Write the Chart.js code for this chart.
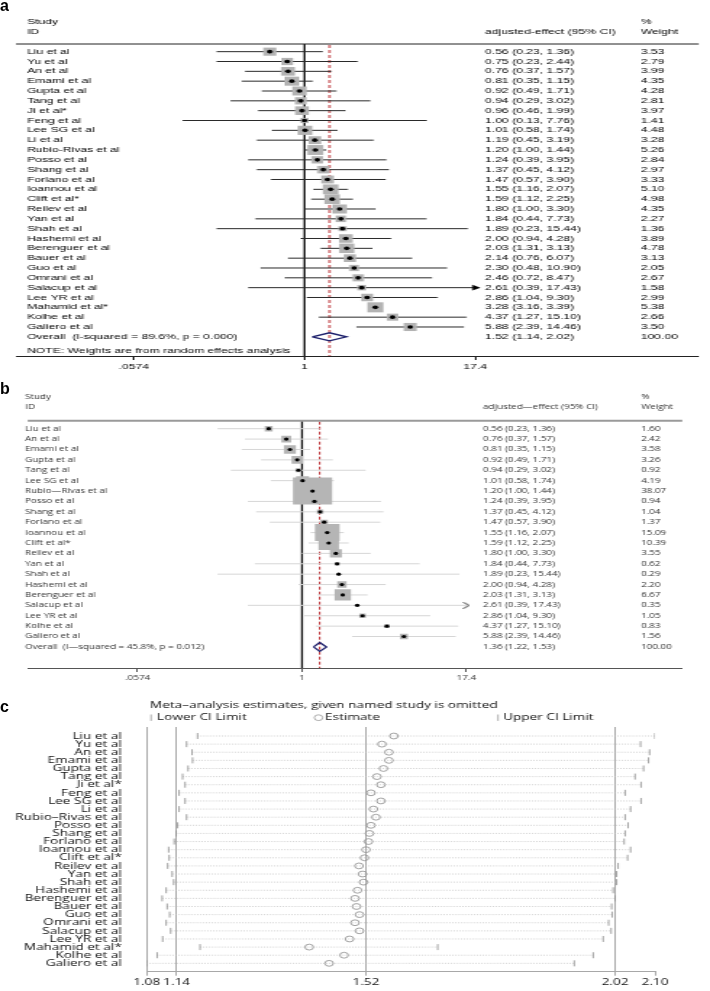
<!DOCTYPE html>
<html>
<head>
<meta charset="utf-8">
<title>Forest plots</title>
<script src="https://cdn.jsdelivr.net/npm/chart.js@4.4.0/dist/chart.umd.min.js"></script>
<style>
  body { margin: 0; background: #fff; width: 710px; height: 991px; position: relative; overflow: hidden; }
  .panel { position: absolute; left: 0; transform-origin: 0 0; }
  .panel canvas { display: block; }
  .tag { position: absolute; left: 0; font-family: "Liberation Sans", Arial, sans-serif; font-weight: bold; font-size: 16px; line-height: 16px; }
</style>
</head>
<body>
<div class="panel" id="wrapA" style="top:0"><canvas id="chartA" width="444" height="380"></canvas></div>
<div class="panel" id="wrapB" style="top:380px"><canvas id="chartB" width="490" height="310"></canvas></div>
<div class="panel" id="wrapC" style="top:690px"><canvas id="chartC" width="490" height="301"></canvas></div>
<div class="tag" style="top:-2px">a</div>
<div class="tag" style="top:381px">b</div>
<div class="tag" style="top:699px">c</div>
<script>
// ---- panel a: all studies ----
const studiesA = ['Liu et al', 'Yu et al', 'An et al', 'Emami et al', 'Gupta et al', 'Tang et al', 'Ji et al*',
    'Feng et al', 'Lee SG et al', 'Li et al', 'Rubio-Rivas et al', 'Posso et al', 'Shang et al', 'Forlano et al',
    'Ioannou et al', 'Clift et al*', 'Reilev et al', 'Yan et al', 'Shah et al', 'Hashemi et al', 'Berenguer et al',
    'Bauer et al', 'Guo et al', 'Omrani et al', 'Salacup et al', 'Lee YR et al', 'Mahamid et al*', 'Kolhe et al',
    'Galiero et al'];
const estA = [0.56, 0.75, 0.76, 0.81, 0.92, 0.94, 0.96, 1.00, 1.01, 1.19, 1.20, 1.24, 1.37, 1.47, 1.55, 1.59,
    1.80, 1.84, 1.89, 2.00, 2.03, 2.14, 2.30, 2.46, 2.61, 2.86, 3.28, 4.37, 5.88];
const lowA = [0.23, 0.23, 0.37, 0.35, 0.49, 0.29, 0.46, 0.13, 0.58, 0.45, 1.00, 0.39, 0.45, 0.57, 1.16, 1.12,
    1.00, 0.44, 0.23, 0.94, 1.31, 0.76, 0.48, 0.72, 0.39, 1.04, 3.16, 1.27, 2.39];
const highA = [1.36, 2.44, 1.57, 1.15, 1.71, 3.02, 1.99, 7.76, 1.74, 3.19, 1.44, 3.95, 4.12, 3.90, 2.07, 2.25,
    3.30, 7.73, 15.44, 4.28, 3.13, 6.07, 10.90, 8.47, 17.43, 9.30, 3.39, 15.10, 14.46];
const weightA = [3.53, 2.79, 3.99, 4.35, 4.28, 2.81, 3.97, 1.41, 4.48, 3.28, 5.26, 2.84, 2.97, 3.33, 5.10, 4.98,
    4.35, 2.27, 1.36, 3.89, 4.78, 3.13, 2.05, 2.67, 1.58, 2.99, 5.38, 2.66, 3.50];
const overallA = [1.52, 1.14, 2.02];
const hetA = ['89.6%', '0.000'];

// ---- panel b: adjusted subset ----
const studiesB = ['Liu et al', 'An et al', 'Emami et al', 'Gupta et al', 'Tang et al', 'Lee SG et al',
    'Rubio\u2014Rivas et al', 'Posso et al', 'Shang et al', 'Forlano et al', 'Ioannou et al', 'Clift et al*',
    'Reilev et al', 'Yan et al', 'Shah et al', 'Hashemi et al', 'Berenguer et al', 'Salacup et al', 'Lee YR et al',
    'Kolhe et al', 'Galiero et al'];
const estB = [0.56, 0.76, 0.81, 0.92, 0.94, 1.01, 1.20, 1.24, 1.37, 1.47, 1.55, 1.59, 1.80, 1.84, 1.89, 2.00,
    2.03, 2.61, 2.86, 4.37, 5.88];
const lowB = [0.23, 0.37, 0.35, 0.49, 0.29, 0.58, 1.00, 0.39, 0.45, 0.57, 1.16, 1.12, 1.00, 0.44, 0.23, 0.94,
    1.31, 0.39, 1.04, 1.27, 2.39];
const highB = [1.36, 1.57, 1.15, 1.71, 3.02, 1.74, 1.44, 3.95, 4.12, 3.90, 2.07, 2.25, 3.30, 7.73, 15.44, 4.28,
    3.13, 17.43, 9.30, 15.10, 14.46];
const weightB = [1.60, 2.42, 3.58, 3.26, 0.92, 4.19, 38.07, 0.94, 1.04, 1.37, 15.09, 10.39, 3.55, 0.62, 0.29,
    2.20, 6.67, 0.35, 1.05, 0.83, 1.56];
const overallB = [1.36, 1.22, 1.53];
const hetB = ['45.8%', '0.012'];

// shared x ticks of the forest plots
const forestTicks = [0.0574, 1, 17.4];
const forestTickLabels = ['.0574', '1', '17.4'];

// ---- panel c: leave-one-out ----
const studiesC = ['Liu et al', 'Yu et al', 'An et al', 'Emami et al', 'Gupta et al', 'Tang et al', 'Ji et al*',
    'Feng et al', 'Lee SG et al', 'Li et al', 'Rubio\u2013Rivas et al', 'Posso et al', 'Shang et al', 'Forlano et al',
    'Ioannou et al', 'Clift et al*', 'Reilev et al', 'Yan et al', 'Shah et al', 'Hashemi et al', 'Berenguer et al',
    'Bauer et al', 'Guo et al', 'Omrani et al', 'Salacup et al', 'Lee YR et al', 'Mahamid et al*', 'Kolhe et al',
    'Galiero et al'];
const lowC = [1.182, 1.160, 1.171, 1.172, 1.163, 1.152, 1.157, 1.145, 1.157, 1.145, 1.160, 1.142, 1.139, 1.135,
    1.124, 1.125, 1.122, 1.131, 1.134, 1.119, 1.111, 1.121, 1.126, 1.119, 1.128, 1.112, 1.187, 1.101, 1.080];
const estC = [1.576, 1.552, 1.566, 1.566, 1.555, 1.542, 1.550, 1.530, 1.550, 1.535, 1.540, 1.530, 1.527, 1.525,
    1.520, 1.517, 1.506, 1.513, 1.515, 1.503, 1.498, 1.501, 1.507, 1.498, 1.507, 1.487, 1.406, 1.476, 1.446];
const upC = [2.100, 2.071, 2.089, 2.087, 2.077, 2.060, 2.072, 2.040, 2.072, 2.051, 2.040, 2.046, 2.040, 2.038,
    2.051, 2.045, 2.026, 2.023, 2.023, 2.016, 2.020, 2.013, 2.014, 2.007, 2.012, 1.996, 1.664, 1.976, 1.938];
const ticksC = [1.08, 1.14, 1.52, 2.02, 2.10];
const refLinesC = [1.14, 1.52, 2.02];

const ARIAL = '"Liberation Sans", Arial, sans-serif';
const SANS = '"Open Sans", "Noto Sans", sans-serif';

// the published figure is stretched sideways, so each canvas is too
function stretch(wrapId, canvasId) {
    const w = document.getElementById(canvasId).width;
    const s = 710 / w;
    document.getElementById(wrapId).style.transform = `scaleX(${s})`;
    return s;
}

function chevron(color) {
    const c = document.createElement('canvas');
    c.width = 5;
    c.height = 7;
    const g = c.getContext('2d');
    g.strokeStyle = color;
    g.lineWidth = 1;
    g.beginPath();
    g.moveTo(0.5, 0.5);
    g.lineTo(4.5, 3.5);
    g.lineTo(0.5, 6.5);
    g.stroke();
    return c;
}

function fmt(v) {
    return v.toFixed(2);
}

function forestChart(canvasId, d, L) {
    const S = L.scale;
    const n = d.studies.length;
    const xLimit = forestTicks[forestTicks.length - 1];

    const ciPts = [], centres = [], arrows = [];
    d.studies.forEach((_, i) => {
        ciPts.push({x: d.low[i], y: i}, {x: Math.min(d.high[i], xLimit), y: i}, {x: null, y: null});
        centres.push({x: d.est[i], y: i});
        if (d.high[i] > xLimit) arrows.push({x: xLimit, y: i});
    });
    const o = d.overall;
    const diamond = [
        {x: o[1], y: n}, {x: o[0], y: n - L.diamondH}, {x: o[2], y: n},
        {x: o[0], y: n + L.diamondH}, {x: o[1], y: n}
    ];

    const textPlugin = {
        id: 'forestText',
        beforeDatasetsDraw(chart) {
            const {ctx, chartArea: ca, scales: {x}} = chart;
            ctx.save();
            // line of no effect
            const x1 = x.getPixelForValue(1);
            ctx.strokeStyle = L.nullColor;
            ctx.lineWidth = L.nullWidth;
            ctx.beginPath();
            ctx.moveTo(x1, ca.top);
            ctx.lineTo(x1, ca.bottom);
            ctx.stroke();
            // pooled estimate
            const xe = x.getPixelForValue(o[0]);
            ctx.strokeStyle = '#b8262b';
            ctx.lineWidth = 1;
            ctx.setLineDash([3, 2]);
            ctx.beginPath();
            ctx.moveTo(xe, ca.top + 1);
            ctx.lineTo(xe, ca.bottom);
            ctx.stroke();
            ctx.restore();
        },
        afterDraw(chart) {
            const {ctx, chartArea: ca, scales: {y}} = chart;
            ctx.save();
            // header rule
            ctx.strokeStyle = L.ruleColor;
            ctx.lineWidth = L.ruleWidth;
            ctx.beginPath();
            ctx.moveTo(ca.left, ca.top);
            ctx.lineTo(ca.right, ca.top);
            ctx.stroke();

            ctx.font = `${L.fontSize}px ${L.font}`;
            ctx.fillStyle = L.textColor;
            ctx.textBaseline = 'middle';
            const cx = L.cols.map(v => v / S);
            ctx.fillText('Study', cx[0], L.head1);
            ctx.fillText('ID', cx[0], L.head2);
            ctx.fillText(L.ciHeader, cx[1], L.head2);
            ctx.fillText('%', cx[2], L.head1);
            ctx.fillText('Weight', cx[2], L.head2);

            d.studies.forEach((name, i) => {
                const py = y.getPixelForValue(i);
                ctx.fillText(name, cx[0], py);
                ctx.fillText(`${fmt(d.est[i])} (${fmt(d.low[i])}, ${fmt(d.high[i])})`, cx[1], py);
                ctx.fillText(fmt(d.weight[i]), cx[2], py);
            });
            const py = y.getPixelForValue(n);
            ctx.fillText(`Overall  (I${L.dash}squared = ${d.het[0]}, p = ${d.het[1]})`, cx[0], py);
            ctx.fillText(`${fmt(o[0])} (${fmt(o[1])}, ${fmt(o[2])})`, cx[1], py);
            ctx.fillText('100.00', cx[2], py);
            if (L.note) {
                ctx.fillText(L.note, cx[0], y.getPixelForValue(n + 1.45));
            }
            ctx.restore();
        }
    };

    return new Chart(document.getElementById(canvasId), {
        type: 'scatter',
        data: {
            datasets: [
                {
                    data: arrows,
                    pointStyle: L.arrowStyle,
                    pointRotation: L.arrowRot,
                    pointRadius: 3.4,
                    backgroundColor: '#000',
                    borderColor: '#000',
                    borderWidth: 0
                },
                {
                    data: centres,
                    pointStyle: 'circle',
                    pointRadius: L.dotR,
                    backgroundColor: '#000',
                    borderWidth: 0
                },
                {
                    data: diamond,
                    showLine: true,
                    pointRadius: 0,
                    borderColor: '#1c1f6b',
                    borderWidth: 1.3,
                    tension: 0
                },
                {
                    data: centres,
                    pointStyle: 'rect',
                    pointRadius: ctx => L.boxK * Math.sqrt(d.weight[ctx.dataIndex]),
                    backgroundColor: L.boxColor,
                    borderWidth: 0
                },
                {
                    data: ciPts,
                    showLine: true,
                    spanGaps: false,
                    pointRadius: 0,
                    borderColor: L.ciColor,
                    borderWidth: 1
                }
            ]
        },
        options: {
            responsive: false,
            animation: false,
            devicePixelRatio: 1,
            events: [],
            layout: {padding: {top: L.top, left: 16 / S, right: L.canvasW - L.right / S, bottom: 0}},
            plugins: {legend: {display: false}, tooltip: {enabled: false}},
            scales: {
                x: {
                    type: 'logarithmic',
                    min: L.xMin,
                    max: L.xMax,
                    bounds: 'data',
                    afterBuildTicks: s => { s.ticks = forestTicks.map(v => ({value: v})); },
                    afterFit: s => { s.height = L.axisH; },
                    ticks: {
                        autoSkip: false,
                        maxRotation: 0,
                        padding: 2,
                        color: L.textColor,
                        font: {family: L.font, size: L.fontSize},
                        callback: (v, i) => forestTickLabels[i]
                    },
                    grid: {drawOnChartArea: false, tickLength: 4, color: L.axisColor},
                    border: {display: true, color: L.axisColor, width: 1}
                },
                y: {
                    type: 'linear',
                    display: false,
                    reverse: true,
                    bounds: 'data',
                    min: L.yMin,
                    max: L.yMax
                }
            }
        },
        plugins: [textPlugin]
    });
}

function influenceChart(S) {
    const dotted = [], lowPts = [], estPts = [], upPts = [];
    studiesC.forEach((_, i) => {
        dotted.push({x: lowC[i], y: i}, {x: upC[i], y: i}, {x: null, y: null});
        lowPts.push({x: lowC[i], y: i});
        estPts.push({x: estC[i], y: i});
        upPts.push({x: upC[i], y: i});
    });

    const titlePlugin = {
        id: 'influenceTitle',
        afterDraw(chart) {
            const {ctx} = chart;
            ctx.save();
            ctx.fillStyle = '#111';
            ctx.textBaseline = 'middle';
            ctx.font = `9.4px ${SANS}`;
            ctx.fillText('Meta\u2013analysis estimates, given named study is omitted', 150 / S, 15);
            const ly = 27.7;
            ctx.fillText('Lower CI Limit', 157 / S, ly);
            ctx.fillText('Estimate', 325 / S, ly);
            ctx.fillText('Upper CI Limit', 503 / S, ly);
            ctx.strokeStyle = '#999';
            ctx.lineWidth = 0.8;
            ctx.beginPath();
            ctx.moveTo(151 / S, ly - 3.2);
            ctx.lineTo(151 / S, ly + 3.2);
            ctx.moveTo(498 / S, ly - 3.2);
            ctx.lineTo(498 / S, ly + 3.2);
            ctx.stroke();
            ctx.beginPath();
            ctx.arc(318.5 / S, ly, 2.9, 0, Math.PI * 2);
            ctx.stroke();
            ctx.restore();
        }
    };

    return new Chart(document.getElementById('chartC'), {
        type: 'scatter',
        data: {
            datasets: [
                {
                    data: estPts,
                    pointStyle: 'circle',
                    pointRadius: 2.9,
                    backgroundColor: 'rgba(255,255,255,0)',
                    borderColor: '#8c8c8c',
                    borderWidth: 0.8
                },
                {
                    data: lowPts.concat(upPts),
                    pointStyle: 'line',
                    pointRotation: 90,
                    pointRadius: 3,
                    borderColor: '#8c8c8c',
                    borderWidth: 0.8
                },
                {
                    data: dotted,
                    showLine: true,
                    spanGaps: false,
                    pointRadius: 0,
                    borderColor: '#bdbdbd',
                    borderWidth: 0.8,
                    borderDash: [0.8, 1.3]
                }
            ]
        },
        options: {
            responsive: false,
            animation: false,
            devicePixelRatio: 1,
            events: [],
            layout: {padding: {top: 37, left: 0, right: 490 - 655 / S, bottom: 0}},
            plugins: {legend: {display: false}, tooltip: {enabled: false}},
            scales: {
                x: {
                    type: 'linear',
                    min: 1.08,
                    max: 2.10,
                    bounds: 'data',
                    afterBuildTicks: s => { s.ticks = ticksC.map(v => ({value: v})); },
                    afterFit: s => { s.height = 19.3; },
                    ticks: {
                        autoSkip: false,
                        maxRotation: 0,
                        padding: 1,
                        color: '#111',
                        font: {family: SANS, size: 9.4},
                        callback: v => v.toFixed(2)
                    },
                    grid: {
                        color: ctx => (ctx.tick && refLinesC.includes(ctx.tick.value)) ? '#a8a8a8' : 'rgba(0,0,0,0)',
                        tickColor: '#a8a8a8',
                        tickLength: 4,
                        lineWidth: 1
                    },
                    border: {display: true, color: '#a8a8a8', width: 1}
                },
                y: {
                    type: 'linear',
                    reverse: true,
                    min: -1.11,
                    max: 29.03,
                    bounds: 'data',
                    afterBuildTicks: s => { s.ticks = studiesC.map((_, i) => ({value: i})); },
                    afterFit: s => { s.width = 146.7 / S; },
                    ticks: {
                        autoSkip: false,
                        padding: 9.2,
                        color: '#111',
                        font: {family: SANS, size: 9.4, lineHeight: 1},
                        callback: (v, i) => studiesC[i]
                    },
                    grid: {display: false},
                    border: {display: true, color: '#a8a8a8', width: 1}
                }
            }
        },
        plugins: [titlePlugin]
    });
}

const sA = stretch('wrapA', 'chartA');
const sB = stretch('wrapB', 'chartB');
const sC = stretch('wrapC', 'chartC');

forestChart('chartA',
    {studies: studiesA, est: estA, low: lowA, high: highA, weight: weightA, overall: overallA, het: hetA},
    {
        scale: sA, canvasW: 444, right: 699, top: 44, axisH: 24,
        xMin: 0.0080, xMax: 735, yMin: -0.78, yMax: 30.95,
        font: ARIAL, fontSize: 7.6, textColor: '#000', dash: '-',
        cols: [27, 485, 640.7], head1: 22, head2: 32,
        ciHeader: 'adjusted-effect (95% CI)',
        note: 'NOTE: Weights are from random effects analysis',
        ruleColor: '#222', ruleWidth: 1, axisColor: '#222',
        nullColor: '#111', nullWidth: 1.2,
        ciColor: '#2a2a2a', boxColor: '#b3b3b3', boxK: 3.06, dotR: 1.8,
        diamondH: 0.41, arrowStyle: 'triangle', arrowRot: 90
    });

forestChart('chartB',
    {studies: studiesB, est: estB, low: lowB, high: highB, weight: weightB, overall: overallB, het: hetB},
    {
        scale: sB, canvasW: 490, right: 701, top: 40.7, axisH: 22,
        xMin: 0.00849, xMax: 743, yMin: -0.77, yMax: 23.03,
        font: SANS, fontSize: 6.8, textColor: '#333', dash: '\u2014',
        cols: [25, 483, 641], head1: 17.5, head2: 27.5,
        ciHeader: 'adjusted\u2014effect (95% CI)',
        note: null,
        ruleColor: '#9a9a9a', ruleWidth: 2, axisColor: '#555',
        nullColor: '#111', nullWidth: 1.3,
        ciColor: '#d6d6d6', boxColor: '#b5b5b5', boxK: 3.1, dotR: 1.6,
        diamondH: 0.43, arrowStyle: chevron('#333'), arrowRot: 0
    });

influenceChart(sC);
</script>
</body>
</html>
